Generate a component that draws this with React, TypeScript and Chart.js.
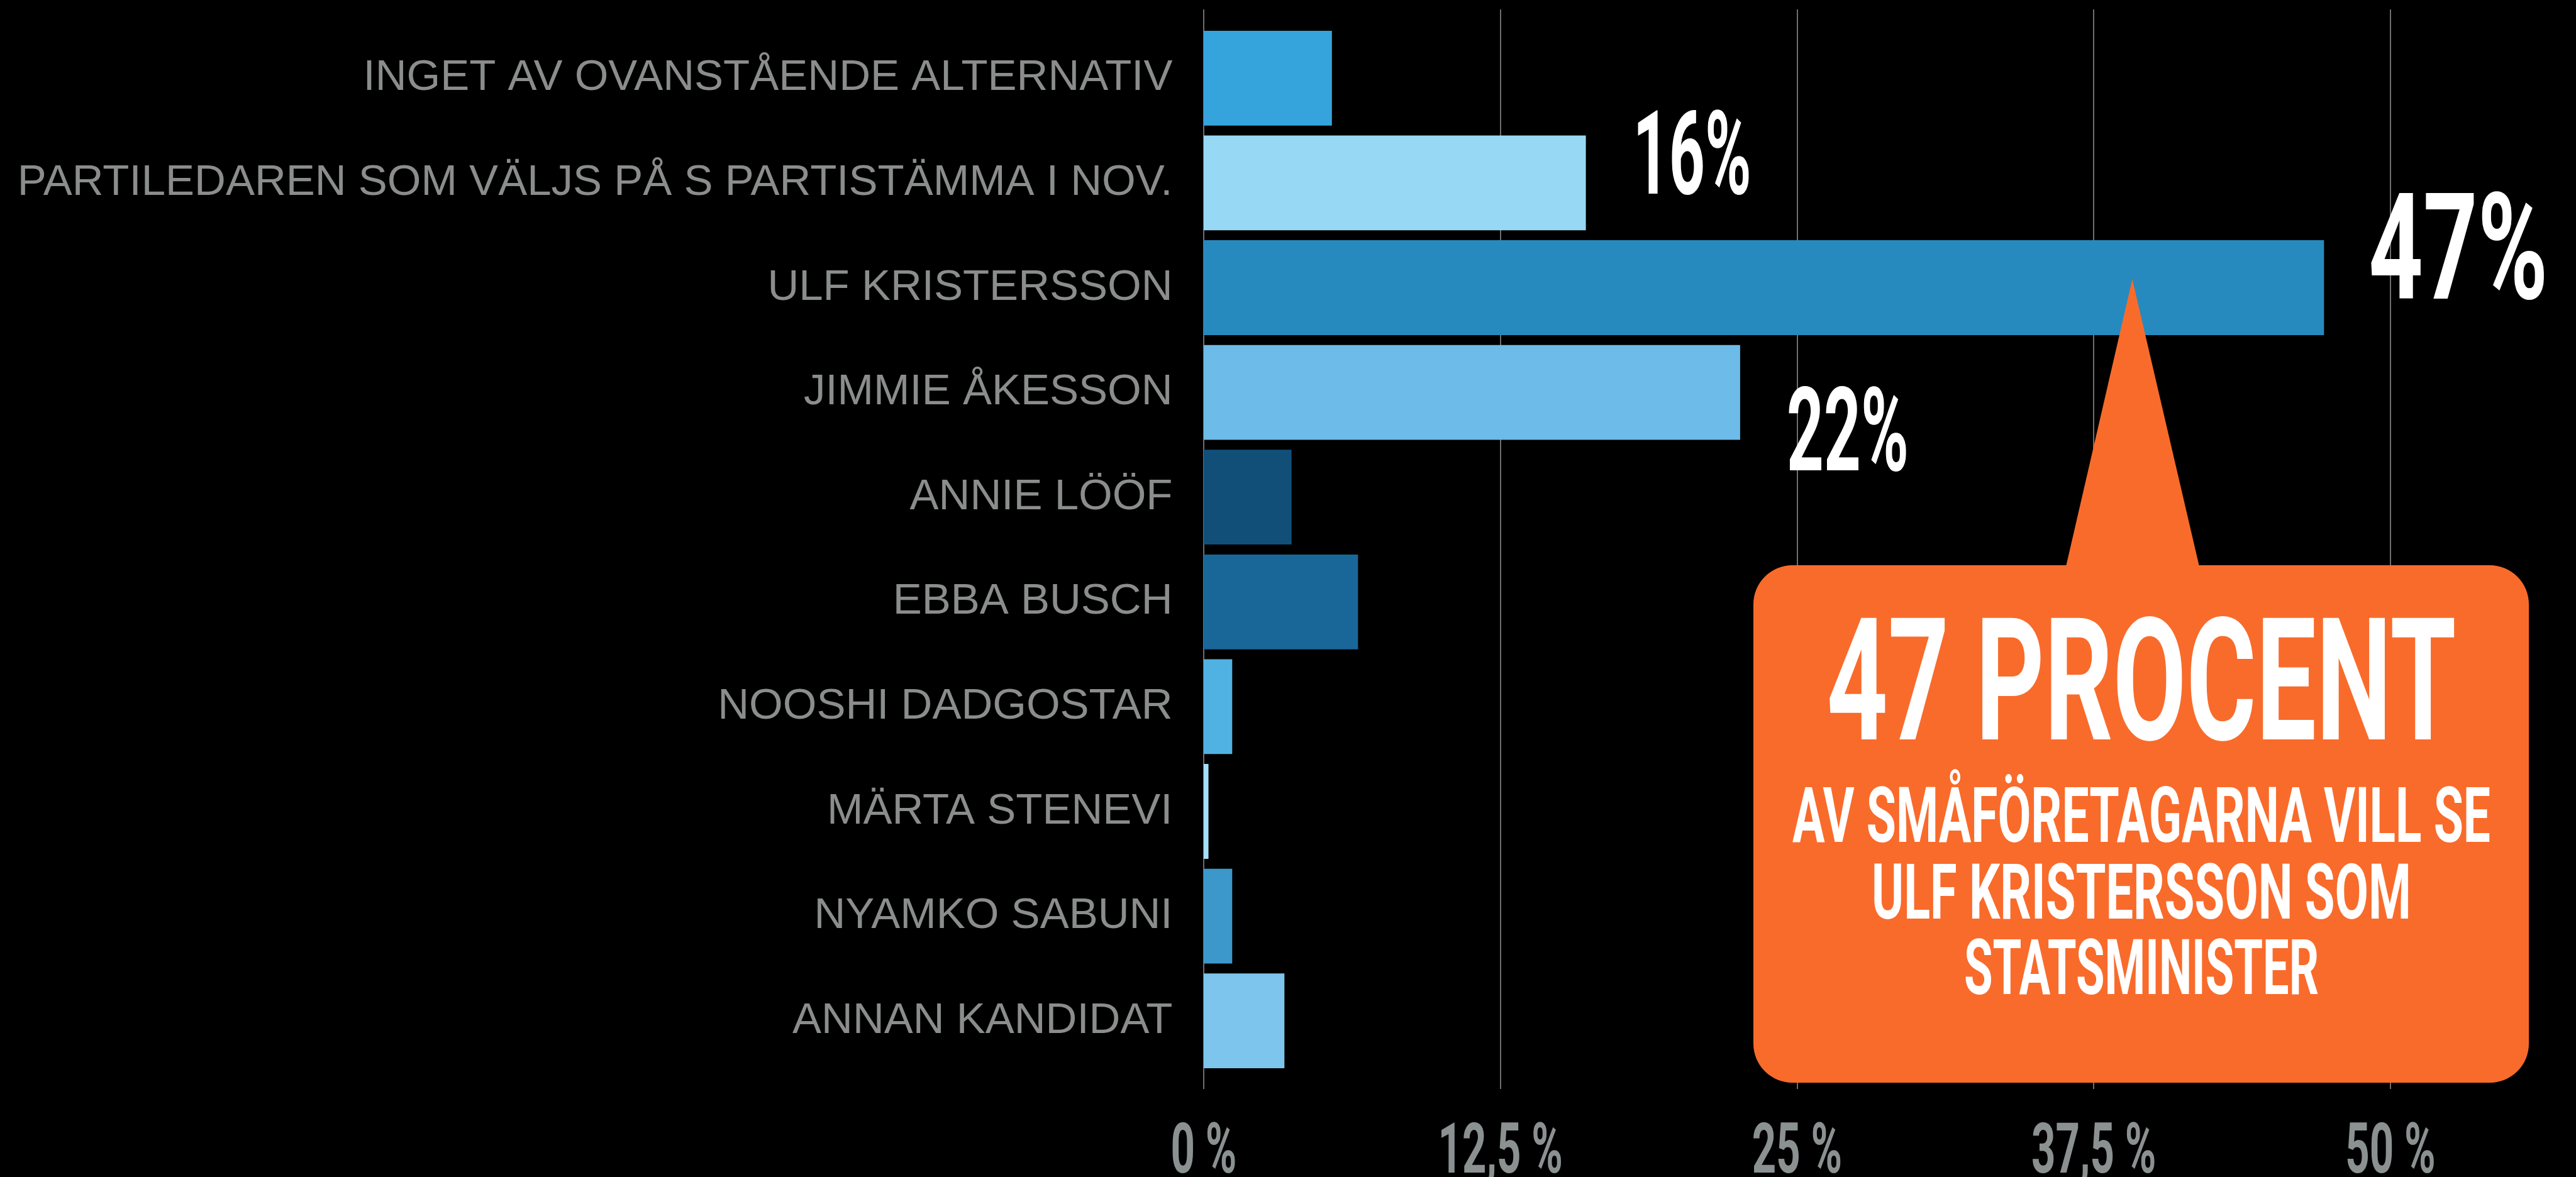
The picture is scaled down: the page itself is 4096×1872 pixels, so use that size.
import React, { useEffect, useRef } from 'react';
import { Chart, registerables } from 'chart.js';

Chart.register(...registerables);

// ---------- DATA ----------
const categories = [
  'INGET AV OVANSTÅENDE ALTERNATIV',
  'PARTILEDAREN SOM VÄLJS PÅ S PARTISTÄMMA I NOV.',
  'ULF KRISTERSSON',
  'JIMMIE ÅKESSON',
  'ANNIE LÖÖF',
  'EBBA BUSCH',
  'NOOSHI DADGOSTAR',
  'MÄRTA STENEVI',
  'NYAMKO SABUNI',
  'ANNAN KANDIDAT',
];
const values = [5.4, 16.1, 47.2, 22.6, 3.7, 6.5, 1.2, 0.2, 1.2, 3.4];
const xTickValues = [0, 12.5, 25, 37.5, 50];
const xTickLabels = ['0 %', '12,5 %', '25 %', '37,5 %', '50 %'];
const valueLabelTexts = ['16%', '47%', '22%'];
const valueLabelCategories = [1, 2, 3];
const calloutTitle = '47 PROCENT';
const calloutLines = ['AV SMÅFÖRETAGARNA VILL SE', 'ULF KRISTERSSON SOM', 'STATSMINISTER'];

// ---------- STYLE ----------
const barColors = [
  '#35a4dc', '#97d9f5', '#268abf', '#6cbbe8', '#114f79',
  '#196799', '#50b2e2', '#a6e0f8', '#3c97cb', '#7dc5ec',
];
const W = 4096;
const H = 1872;
const AXIS_LEFT = 1914;
const PAD_RIGHT = 295;
const PAD_TOP = 41;
const PAD_BOTTOM = 165;
const GRID_EXT_TOP = 26;
const GRID_EXT_BOTTOM = 25;
const GRID_COLOR = '#6e6e6e';
const LABEL_GRAY = '#8b8d8d';
const TICK_GRAY = '#8b9090';
const ORANGE = '#f96b2b';
const CONDENSED_FONT = 'Roboto';

const valueLabelStyles = [
  { font: 185, width: 188, dx: 75, dy: 17 },
  { font: 235, width: 285, dx: 71, dy: 17.5 },
  { font: 185, width: 194, dx: 74, dy: 124 },
];
const tickStyle = { font: 112, scaleX: 0.6, baseline: 1864.6 };
const callout = {
  left: 2788, right: 4021, top: 899, bottom: 1722, radius: 62,
  triLeft: 3285, triRight: 3497, tipX: 3390.5, tipY: 444,
  cx: 3405,
  title: { baseline: 1176, font: 272, width: 1001 },
  lines: [
    { baseline: 1339, font: 122, width: 1110 },
    { baseline: 1460.6, font: 122, width: 858 },
    { baseline: 1581, font: 122, width: 564 },
  ],
};

function drawFitted(
  ctx: CanvasRenderingContext2D, text: string, x: number, baseline: number,
  fontPx: number, width: number | null, scaleX: number | null,
  align: CanvasTextAlign, color: string,
) {
  ctx.save();
  ctx.font = `700 ${fontPx}px ${CONDENSED_FONT}`;
  const w = ctx.measureText(text).width;
  const sx = width != null ? width / w : (scaleX as number);
  ctx.translate(x, baseline);
  ctx.scale(sx, 1);
  ctx.textAlign = align;
  ctx.textBaseline = 'alphabetic';
  ctx.fillStyle = color;
  ctx.fillText(text, 0, 0);
  ctx.restore();
}

const overlayPlugin = {
  id: 'overlay',
  beforeDatasetsDraw(chart: any) {
    const { ctx, chartArea, scales } = chart;
    const xs = scales.x;
    ctx.save();
    ctx.strokeStyle = GRID_COLOR;
    ctx.lineWidth = 2;
    xs.ticks.forEach((_t: any, i: number) => {
      const x = Math.round(xs.getPixelForTick(i));
      ctx.beginPath();
      ctx.moveTo(x, chartArea.top - GRID_EXT_TOP);
      ctx.lineTo(x, chartArea.bottom + GRID_EXT_BOTTOM);
      ctx.stroke();
    });
    ctx.restore();
  },
  afterDatasetsDraw(chart: any) {
    const { ctx, scales } = chart;
    const xs = scales.x;
    const ys = scales.y;

    // value labels
    valueLabelTexts.forEach((txt, i) => {
      const cat = valueLabelCategories[i];
      const st = valueLabelStyles[i];
      const x = xs.getPixelForValue(values[cat]) + st.dx;
      const y = ys.getPixelForValue(cat) + st.dy;
      drawFitted(ctx, txt, x, y, st.font, st.width, null, 'left', '#ffffff');
    });

    // callout
    ctx.save();
    ctx.fillStyle = ORANGE;
    ctx.beginPath();
    ctx.moveTo(callout.triLeft, callout.top + 2);
    ctx.lineTo(callout.tipX, callout.tipY);
    ctx.lineTo(callout.triRight, callout.top + 2);
    ctx.closePath();
    ctx.fill();
    ctx.beginPath();
    (ctx as any).roundRect(
      callout.left, callout.top, callout.right - callout.left,
      callout.bottom - callout.top, callout.radius,
    );
    ctx.fill();
    ctx.restore();
    drawFitted(ctx, calloutTitle, callout.cx, callout.title.baseline,
      callout.title.font, callout.title.width, null, 'center', '#ffffff');
    calloutLines.forEach((line, i) => {
      const st = callout.lines[i];
      drawFitted(ctx, line, callout.cx, st.baseline, st.font, st.width, null, 'center', '#ffffff');
    });

    // x tick labels
    xs.ticks.forEach((t: any, i: number) => {
      const x = xs.getPixelForTick(i);
      drawFitted(ctx, String(t.label), x, tickStyle.baseline, tickStyle.font,
        null, tickStyle.scaleX, 'center', TICK_GRAY);
    });
  },
};

export default function App() {
  const ref = useRef<HTMLCanvasElement | null>(null);
  useEffect(() => {
    document.body.style.margin = '0';
    document.body.style.background = '#000';
    const canvas = ref.current;
    if (!canvas) return;
    const chart = new Chart(canvas, {
      type: 'bar',
      data: {
        labels: categories,
        datasets: [{
          data: values,
          backgroundColor: barColors,
          borderWidth: 0,
          categoryPercentage: 1,
          barPercentage: 0.905,
        }],
      },
      options: {
        indexAxis: 'y',
        animation: false,
        responsive: false,
        devicePixelRatio: 1,
        maintainAspectRatio: false,
        layout: { padding: { left: 0, right: PAD_RIGHT, top: PAD_TOP, bottom: PAD_BOTTOM } },
        plugins: { legend: { display: false }, tooltip: { enabled: false }, title: { display: false } },
        scales: {
          x: {
            type: 'linear',
            min: 0,
            max: 50,
            afterBuildTicks: (scale: any) => {
              scale.ticks = xTickValues.map((v) => ({ value: v }));
            },
            afterFit: (scale: any) => {
              scale.height = 0;
              scale.paddingLeft = 0;
              scale.paddingRight = 0;
              scale.paddingTop = 0;
              scale.paddingBottom = 0;
            },
            ticks: {
              display: false,
              callback: (_v: any, i: number) => xTickLabels[i],
            },
            grid: { display: false, drawTicks: false },
            border: { display: false },
          },
          y: {
            type: 'category',
            afterFit: (scale: any) => {
              scale.width = AXIS_LEFT;
              scale.paddingTop = 0;
              scale.paddingBottom = 0;
            },
            ticks: {
              color: LABEL_GRAY,
              font: { family: '"Liberation Sans", Arial, sans-serif', size: 69, weight: 'normal' },
              padding: 49.5,
              autoSkip: false,
            },
            grid: { display: false, drawTicks: false },
            border: { display: false },
          },
        },
      },
      plugins: [overlayPlugin],
    } as any);
    return () => chart.destroy();
  }, []);
  return (
    <div style={{ position: 'fixed', left: 0, top: 0, width: W, height: H, background: '#000' }}>
      <canvas ref={ref} width={W} height={H} style={{ display: 'block', width: W, height: H }} />
    </div>
  );
}
